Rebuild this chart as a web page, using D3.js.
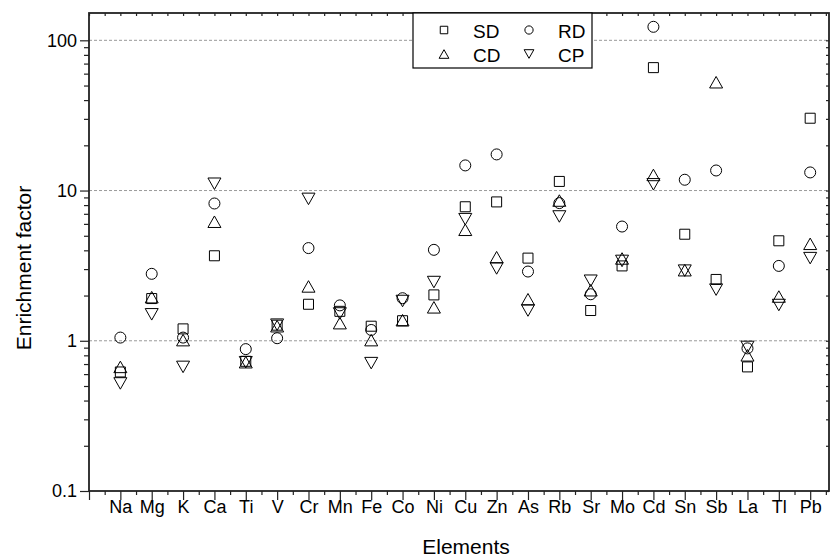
<!DOCTYPE html>
<html><head><meta charset="utf-8">
<script src="https://cdn.jsdelivr.net/npm/d3@7"></script>
<style>
body{margin:0;background:#fff}
svg{display:block}
text{font-family:"Liberation Sans",Arial,sans-serif;fill:#000}
</style>
</head><body>
<svg id="c" width="831" height="558"></svg>
<script>
// ---- data ----
const elements = ["Na","Mg","K","Ca","Ti","V","Cr","Mn","Fe","Co","Ni","Cu","Zn","As","Rb","Sr","Mo","Cd","Sn","Sb","La","Tl","Pb"];
const sdValues = [0.62,1.91,1.20,3.68,0.73,1.27,1.75,1.57,1.25,1.36,2.02,7.8,8.4,3.55,11.5,1.59,3.15,65.8,5.12,2.56,0.67,4.63,30.3];
const rdValues = [1.05,2.79,1.05,8.2,0.88,1.04,4.14,1.72,1.18,1.92,4.03,14.7,17.4,2.89,8.25,2.04,5.76,123,11.8,13.6,0.89,3.15,13.2];
const cdValues = [0.67,1.95,1.01,6.2,0.72,1.25,2.30,1.31,1.01,1.37,1.67,5.48,3.6,1.89,8.58,2.17,3.53,12.7,2.95,52.6,0.80,1.97,4.42];
const cpValues = [0.52,1.50,0.67,11.1,0.72,1.28,8.8,1.52,0.71,1.84,2.46,6.45,3.03,1.59,6.72,2.51,3.40,11.0,2.93,2.19,0.91,1.73,3.55];
const seriesNames = ["SD","RD","CD","CP"];
const seriesShapes = ["square","circle","up","down"];
const yTickValues = [0.1,1,10,100];
const yTickLabels = ["0.1","1","10","100"];
const yMinorValues = [0.2,0.3,0.4,0.5,0.6,0.7,0.8,0.9,2,3,4,5,6,7,8,9,20,30,40,50,60,70,80,90];
const gridValues = [1,10,100];
const xTitle = "Elements";
const yTitle = "Enrichment factor";

const seriesValues = [sdValues, rdValues, cdValues, cpValues];

// ---- layout ----
const svg = d3.select("#c");
const L = 89, R = 829, T = 13, B = 491;
const x = d3.scaleLinear().domain([0, 23.6]).range([L, R]);
const y = d3.scaleLog().domain([0.1, 152]).range([B, T]);

function shapePath(shape, s) {
  const p = d3.path();
  if (shape === "square") { const h = 5*s; p.rect(-h, -h, 2*h, 2*h); }
  else if (shape === "circle") { const r = 5.5*s; p.moveTo(r,0); p.arc(0,0,r,0,2*Math.PI); }
  else if (shape === "up") { const w = 6.5*s, h = 5.75*s; p.moveTo(0,-h); p.lineTo(w,h); p.lineTo(-w,h); p.closePath(); }
  else { const w = 6.5*s, h = 5.75*s; p.moveTo(0,h); p.lineTo(w,-h); p.lineTo(-w,-h); p.closePath(); }
  return p.toString();
}

// gridlines
svg.append("g").selectAll("line").data(gridValues).join("line")
  .attr("x1", L).attr("x2", R).attr("y1", d => y(d)).attr("y2", d => y(d))
  .attr("stroke", "#9a9a9a").attr("stroke-width", 1).attr("stroke-dasharray", "3,2");

// axes
function styleAxis(g) {
  g.select(".domain").remove();
  g.selectAll(".tick line").attr("stroke", "#222").attr("stroke-width", 1.2);
}
const xMajor = d3.range(0, 24);
const xMinor = d3.range(0, 24).map(d => d + 0.5).filter(d => x(d) < R);

svg.append("g").attr("transform", `translate(0,${B})`)
  .call(d3.axisBottom(x).tickValues(xMajor).tickSize(9).tickFormat(i => i === 0 ? "" : elements[i-1]))
  .call(styleAxis)
  .call(g => g.selectAll("text").attr("y", 22).attr("dy", 0).style("font-size", "18px").style("font-family", "Liberation Sans, Arial, sans-serif").attr("fill", "#000"));
svg.append("g").attr("transform", `translate(0,${B})`)
  .call(d3.axisBottom(x).tickValues(xMinor).tickSize(4).tickFormat(""))
  .call(styleAxis);
svg.append("g").attr("transform", `translate(0,${T})`)
  .call(d3.axisBottom(x).tickValues(xMajor.concat(xMinor)).tickSize(3).tickFormat(""))
  .call(styleAxis);

svg.append("g").attr("transform", `translate(${L},0)`)
  .call(d3.axisLeft(y).tickValues(yTickValues).tickSize(9).tickPadding(3).tickFormat((d,i) => yTickLabels[i]))
  .call(styleAxis)
  .call(g => g.selectAll("text").style("font-size", "18px").style("font-family", "Liberation Sans, Arial, sans-serif").attr("fill", "#000"));
svg.append("g").attr("transform", `translate(${L},0)`)
  .call(d3.axisLeft(y).tickValues(yMinorValues).tickSize(5).tickFormat(""))
  .call(styleAxis);
svg.append("g").attr("transform", `translate(${R},0)`)
  .call(d3.axisLeft(y).tickValues(yTickValues.concat(yMinorValues)).tickSize(3).tickFormat(""))
  .call(styleAxis);

// frame
svg.append("rect").attr("x", L).attr("y", T).attr("width", R - L).attr("height", B - T)
  .attr("fill", "none").attr("stroke", "#222").attr("stroke-width", 1.8);

// data
seriesValues.forEach((vals, si) => {
  svg.append("g").selectAll("path").data(vals).join("path")
    .attr("transform", (d, i) => `translate(${x(i+1)},${y(d)})`)
    .attr("d", shapePath(seriesShapes[si], 1))
    .attr("fill", "none").attr("stroke", "#000").attr("stroke-width", 1);
});

// legend
const lg = svg.append("g");
lg.append("rect").attr("x", 413).attr("y", 13).attr("width", 179).attr("height", 55)
  .attr("fill", "#fff").attr("stroke", "#000").attr("stroke-width", 1.2);
const legPos = [[444,30],[529,30],[444,54],[529,54]];
seriesNames.forEach((name, i) => {
  const [mx, my] = legPos[i];
  lg.append("path").attr("transform", `translate(${mx},${my})`)
    .attr("d", shapePath(seriesShapes[i], 0.75))
    .attr("fill", "none").attr("stroke", "#000").attr("stroke-width", 1);
  lg.append("text").attr("x", mx + 29).attr("y", my + 7.5)
    .style("font-size", "19px").text(name);
});

// titles
svg.append("text").attr("x", 466).attr("y", 554).attr("text-anchor", "middle")
  .style("font-size", "21px").text(xTitle);
svg.append("text").attr("transform", "translate(31,268) rotate(-90)").attr("text-anchor", "middle")
  .style("font-size", "21px").text(yTitle);
</script>
</body></html>
